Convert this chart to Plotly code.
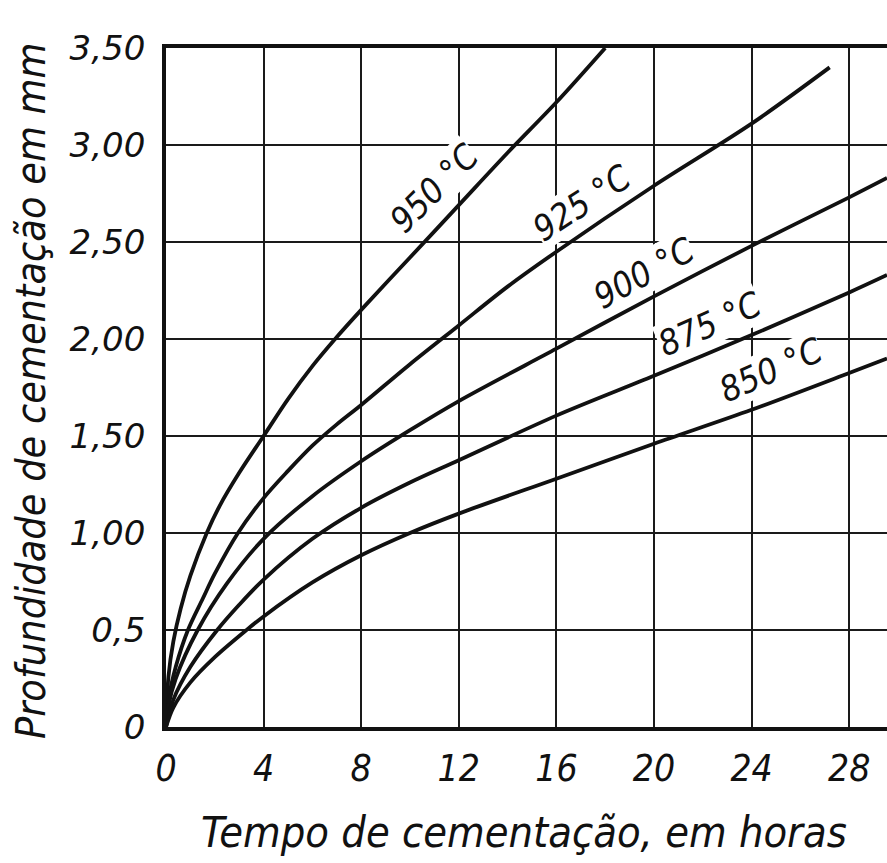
import plotly.graph_objects as go

# ---- data ----
t_950 = [0, 0.1, 0.3, 0.6, 1, 1.67, 2.2, 3, 4, 5, 6, 7, 8, 10, 12, 14, 16, 18]
d_950 = [0, 0.26, 0.44, 0.61, 0.78, 1.0, 1.14, 1.31, 1.5, 1.69, 1.86, 2.01, 2.15, 2.42, 2.69, 2.96, 3.22, 3.5]

t_925 = [0, 0.1, 0.4, 0.9, 1.5, 2, 2.95, 4, 5, 6, 7, 8, 10, 12, 14, 16, 20, 24, 27.2]
d_925 = [0, 0.14, 0.31, 0.5, 0.66, 0.79, 1.0, 1.18, 1.32, 1.45, 1.56, 1.66, 1.87, 2.07, 2.27, 2.45, 2.79, 3.11, 3.40]

t_900 = [0, 0.1, 0.4, 1.3, 2.5, 4, 6, 8, 10, 12, 16, 20, 24, 28, 29.55]
d_900 = [0, 0.11, 0.25, 0.5, 0.74, 0.97, 1.19, 1.37, 1.53, 1.68, 1.95, 2.22, 2.48, 2.73, 2.83]

t_875 = [0, 0.3, 1, 2.1, 3, 4, 6, 8, 10, 12, 16, 20, 24, 28, 29.55]
d_875 = [0, 0.14, 0.31, 0.5, 0.63, 0.76, 0.97, 1.13, 1.26, 1.375, 1.605, 1.81, 2.02, 2.24, 2.33]

t_850 = [0, 0.3, 1, 2, 3.3, 4, 6, 8, 10, 12, 16, 20, 24, 28, 29.55]
d_850 = [0, 0.1, 0.23, 0.36, 0.5, 0.57, 0.745, 0.885, 1.0, 1.10, 1.28, 1.46, 1.635, 1.825, 1.90]

x_ticks = [0, 4, 8, 12, 16, 20, 24, 28]
x_tick_text = ["0", "4", "8", "12", "16", "20", "24", "28"]
y_ticks = [0, 0.5, 1.0, 1.5, 2.0, 2.5, 3.0, 3.5]
y_tick_text = ["0", "0,5", "1,00", "1,50", "2,00", "2,50", "3,00", "3,50"]

series = [
    ("950 °C", t_950, d_950),
    ("925 °C", t_925, d_925),
    ("900 °C", t_900, d_900),
    ("875 °C", t_875, d_875),
    ("850 °C", t_850, d_850),
]

# curve label placement (label text, x, y, angle)
labels = [
    ("950 °C", 11.0, 2.78, -45),
    ("925 °C", 17.05, 2.70, -33),
    ("900 °C", 19.6, 2.34, -29),
    ("875 °C", 22.3, 2.075, -24),
    ("850 °C", 24.8, 1.84, -24),
]

x_title = "Tempo de cementação, em horas"
y_title = "Profundidade de cementação em mm"

NARROW = "DejaVu Sans Condensed, Liberation Sans, Arial, sans-serif"

fig = go.Figure()
for name, tx, dy in series:
    fig.add_trace(go.Scatter(
        x=tx, y=dy, mode="lines", name=name,
        line=dict(color="#111111", width=3.8, shape="spline", smoothing=0.9),
        hoverinfo="skip", showlegend=False,
    ))

for text, lx, ly, ang in labels:
    fig.add_annotation(
        x=lx, y=ly, xref="x", yref="y", text=text, showarrow=False,
        textangle=ang, bgcolor="white", borderpad=0,
        font=dict(family=NARROW, size=35, color="#111111", style="italic"),
    )

fig.add_annotation(
    x=0.496, y=-0.154, xref="paper", yref="paper", text=x_title,
    showarrow=False, xanchor="center", yanchor="middle",
    font=dict(family=NARROW, size=43, color="#111111", style="italic"),
)
fig.add_annotation(
    x=-0.187, y=0.495, xref="paper", yref="paper", text=y_title,
    showarrow=False, xanchor="center", yanchor="middle", textangle=-90,
    font=dict(family=NARROW, size=41, color="#111111", style="italic"),
)

fig.update_layout(
    width=887, height=863,
    margin=dict(l=166, r=0, t=48, b=136),
    paper_bgcolor="white", plot_bgcolor="white",
    showlegend=False,
)
fig.update_xaxes(
    range=[0, 29.55], tickvals=x_ticks, ticktext=x_tick_text,
    showgrid=True, gridcolor="#1a1a1a", gridwidth=1.6,
    showline=True, linecolor="#111111", linewidth=3.5, mirror=True,
    zeroline=False, ticks="", ticklabelstandoff=6,
    tickfont=dict(family=NARROW, size=37, color="#111111", style="italic"),
)
fig.update_yaxes(
    range=[0, 3.5], tickvals=y_ticks, ticktext=y_tick_text,
    showgrid=True, gridcolor="#1a1a1a", gridwidth=1.6,
    showline=True, linecolor="#111111", linewidth=3.8, mirror=False,
    zeroline=False, ticks="", ticklabelstandoff=10,
    tickfont=dict(family="DejaVu Sans", size=34, color="#111111", style="italic"),
)

fig.write_html(
    "out.html",
    config={"displayModeBar": False},
    post_script="document.body.style.margin='0px';document.body.style.overflow='hidden';",
)
